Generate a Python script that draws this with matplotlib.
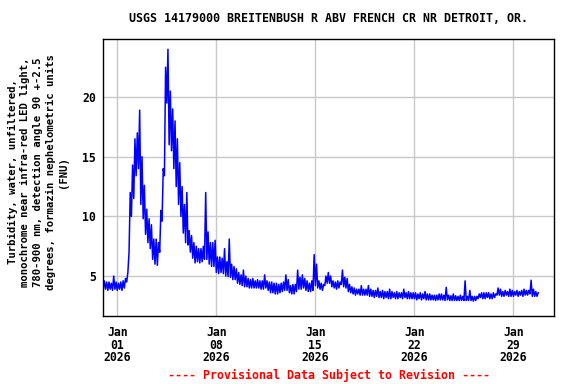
import datetime as dt
import matplotlib
matplotlib.use("Agg")
import matplotlib.pyplot as plt

# turbidity (FNU), 4-hour steps from 2025-12-31 00:00, low / high of each step
turb_lo = [
    3.9, 3.9, 3.8, 3.9, 3.8, 3.9,        # Dec 31
    3.8, 3.9, 3.8, 4.0, 4.5, 7.0,        # Jan 01
    10.0, 11.5, 13.4, 14.0, 11.0, 9.8,   # Jan 02
    8.5, 7.8, 7.3, 6.4, 6.0, 5.9,        # Jan 03
    7.0, 9.6, 13.4, 19.5, 16.0, 15.5,    # Jan 04
    14.0, 12.5, 11.0, 10.0, 8.6, 7.8,    # Jan 05
    7.6, 7.0, 6.5, 6.1, 6.2, 6.1,        # Jan 06
    6.2, 6.4, 6.4, 6.0, 5.8, 5.8,        # Jan 07
    5.3, 5.2, 5.3, 5.2, 5.0, 4.95,       # Jan 08
    4.9, 4.7, 4.7, 4.4, 4.3, 4.2,        # Jan 09
    4.1, 4.1, 4.0, 4.0, 4.0, 4.0,        # Jan 10
    4.0, 3.9, 3.9, 4.0, 3.8, 3.6,        # Jan 11
    3.6, 3.5, 3.5, 3.6, 3.7, 3.8,        # Jan 12
    3.8, 3.6, 3.5, 3.5, 3.7, 3.9,        # Jan 13
    3.9, 4.0, 3.8, 3.7, 3.7, 3.8,        # Jan 14
    4.2, 4.0, 3.9, 3.8, 4.2, 4.4,        # Jan 15
    4.4, 4.1, 4.0, 3.9, 4.0, 4.3,        # Jan 16
    4.1, 4.0, 3.7, 3.6, 3.5, 3.4,        # Jan 17
    3.5, 3.4, 3.4, 3.4, 3.4, 3.3,        # Jan 18
    3.3, 3.2, 3.3, 3.2, 3.2, 3.1,        # Jan 19
    3.2, 3.1, 3.1, 3.2, 3.1, 3.1,        # Jan 20
    3.2, 3.1, 3.2, 3.1, 3.1, 3.1,        # Jan 21
    3.1, 3.0, 3.1, 3.0, 3.1, 3.0,        # Jan 22
    3.0, 3.0, 3.0, 2.95, 3.0, 3.0,       # Jan 23
    3.0, 2.95, 3.0, 2.95, 2.95, 2.95,    # Jan 24
    2.95, 2.95, 2.95, 2.95, 2.95, 2.95,  # Jan 25
    2.95, 2.9, 2.95, 3.1, 3.2, 3.1,      # Jan 26
    3.1, 3.2, 3.1, 3.1, 3.2, 3.4,        # Jan 27
    3.4, 3.3, 3.3, 3.4, 3.3, 3.3,        # Jan 28
    3.3, 3.4, 3.3, 3.4, 3.3, 3.4,        # Jan 29
    3.4, 3.5, 3.3, 3.3, 3.3,             # Jan 30
]
turb_hi = [
    4.6, 4.5, 4.5, 4.4, 5.0, 4.5,
    4.4, 4.5, 4.6, 4.8, 5.3, 12.0,
    14.3, 16.5, 17.0, 18.9, 15.0, 12.6,
    10.6, 9.8, 9.3, 8.1, 8.1, 7.8,
    10.5, 14.0, 22.5, 24.0, 20.5, 19.0,
    18.0, 16.5, 14.5, 12.5, 11.0, 12.0,
    8.8, 8.4, 7.8, 7.5, 7.3, 7.3,
    7.5, 12.0, 8.7, 7.8, 7.8, 8.0,
    6.6, 6.6, 6.5, 7.3, 6.2, 8.1,
    6.0, 5.8, 5.6, 5.3, 5.1, 5.5,
    5.0, 4.8, 4.7, 4.8, 4.6, 4.7,
    4.6, 4.6, 5.1, 4.6, 4.5, 4.5,
    4.4, 4.4, 4.3, 4.4, 4.5, 5.1,
    4.7, 4.2, 4.3, 4.3, 5.5, 4.9,
    5.1, 4.8, 4.6, 4.4, 4.6, 6.8,
    6.0, 4.6, 4.4, 4.3, 5.0, 5.3,
    5.0, 4.6, 4.5, 4.6, 4.5, 5.5,
    4.9, 4.8, 4.3, 4.1, 4.0, 3.9,
    3.9, 4.2, 3.9, 3.9, 4.2, 3.9,
    3.8, 3.8, 4.0, 3.7, 3.8, 3.7,
    3.7, 3.9, 3.7, 3.6, 3.7, 3.6,
    3.6, 3.9, 3.6, 3.7, 3.6, 3.6,
    3.6, 3.5, 3.6, 3.5, 3.7, 3.5,
    3.5, 3.4, 3.4, 3.4, 3.5, 3.5,
    3.4, 4.05, 3.4, 3.35, 3.5, 3.35,
    3.3, 3.4, 3.3, 4.6, 3.3, 3.8,
    3.3, 3.3, 3.3, 3.5, 3.6, 3.6,
    3.6, 3.6, 3.5, 3.6, 3.5, 4.0,
    3.9, 3.7, 3.8, 3.7, 3.9, 3.8,
    3.7, 3.8, 3.7, 3.8, 3.9, 3.8,
    3.8, 4.65, 3.9, 3.7, 3.6,
]

start = dt.datetime(2025, 12, 31)
times, vals = [], []
for i, (lo, hi) in enumerate(zip(turb_lo, turb_hi)):
    t0 = start + dt.timedelta(hours=4 * i)
    times += [t0, t0 + dt.timedelta(hours=2)]
    vals += [lo, hi]

tick_dates = [dt.datetime(2026, 1, d) for d in (1, 8, 15, 22, 29)]
tick_labels = ["Jan\n%02d\n2026" % d.day for d in tick_dates]

font = "DejaVu Sans Mono"
fig = plt.figure(figsize=(5.76, 3.84), dpi=100)
ax = fig.add_axes([0.179, 0.177, 0.783, 0.721])

ax.plot(times, vals, color="#0000ff", lw=1.1)

ax.set_xlim(dt.datetime(2025, 12, 31), dt.datetime(2026, 1, 31, 21))
ax.set_ylim(1.65, 24.85)
ax.set_xticks(tick_dates)
ax.set_xticklabels(tick_labels, family=font, fontweight="bold", fontsize=8.3,
                   linespacing=0.98)
ax.set_yticks([5, 10, 15, 20])
ax.set_yticklabels(["5", "10", "15", "20"], family=font, fontweight="bold",
                   fontsize=8.3)
ax.tick_params(length=0, pad=5)
ax.tick_params(axis="x", pad=7)
ax.grid(True, color="#c8c8c8", lw=1)
ax.set_axisbelow(True)
for s in ax.spines.values():
    s.set_linewidth(1)

fig.text(38 / 576, 1 - 172 / 384,
         "Turbidity, water, unfiltered,\n"
         "monochrome near infra-red LED light,\n"
         "780-900 nm, detection angle 90 +-2.5\n"
         "degrees, formazin nephelometric units\n"
         "(FNU)",
         rotation=90, ha="center", va="center", multialignment="center",
         family=font, fontweight="bold", fontsize=7.7, linespacing=1.33)

fig.text(0.571, 0.951, "USGS 14179000 BREITENBUSH R ABV FRENCH CR NR DETROIT, OR.",
         ha="center", va="center", family=font, fontweight="bold", fontsize=8.4)
fig.text(0.571, 0.023, "---- Provisional Data Subject to Revision ----",
         ha="center", va="center", family=font, fontweight="bold", fontsize=8.4,
         color="#ff0000")

fig.savefig("out.png", dpi=100)
